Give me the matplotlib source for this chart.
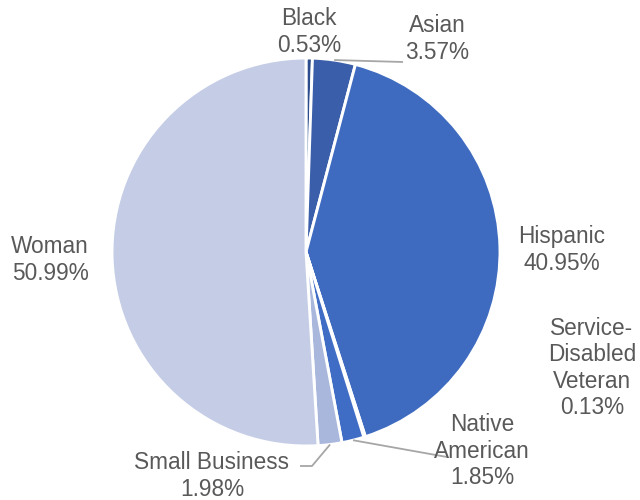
import numpy as np
import matplotlib
matplotlib.use("Agg")
import matplotlib.pyplot as plt

categories = ["Black", "Asian", "Hispanic", "Service-\nDisabled\nVeteran",
              "Native\nAmerican", "Small Business", "Woman"]
shares = [0.53, 3.57, 40.95, 0.13, 1.85, 1.98, 50.99]
colors = ["#2d4c8e", "#3a5eaa", "#3e6bc0", "#3d69bd", "#3f6cc4", "#a9b7dd", "#c5cde6"]

W, H = 640, 500
fig = plt.figure(figsize=(W / 100, H / 100), dpi=100)
ax = fig.add_axes([0, 0, 1, 1])

cx, cy, R = 306, H - 252, 194
wedges, _ = ax.pie(shares, colors=colors, startangle=90, counterclock=False,
                   center=(cx, cy), radius=R, frame=True,
                   wedgeprops=dict(edgecolor="white", linewidth=2.1))
ax.set_xlim(0, W)
ax.set_ylim(0, H)
ax.axis("off")

txt = dict(fontsize=16.3, color="#595959", family="Liberation Sans",
           ha="center", va="center", linespacing=1.17)

def P(x, y):
    return x, H - y

def label(i, x, y):
    ax.text(*P(x, y), f"{categories[i]}\n{shares[i]:.2f}%", **txt)

def edge_point(i, r=R):
    w = wedges[i]
    a = np.deg2rad((w.theta1 + w.theta2) / 2)
    return cx + r * np.cos(a), cy + r * np.sin(a)

line = dict(color="#a6a6a6", lw=1.3, solid_capstyle="butt")

label(0, 309, 32)
label(1, 437, 39)
label(2, 562, 250)
label(3, 592, 368)
label(4, 482, 451)
label(5, 212, 476)
label(6, 50, 260)

# leader lines
x0, y0 = edge_point(1)
ax.plot([x0, 403], [y0, H - 62], **line)
x0, y0 = edge_point(4)
ax.plot([x0, 447], [y0, H - 457], **line)
x0, y0 = edge_point(5)
ax.plot([x0, 312, 300], [y0, H - 466, H - 466], **line)

fig.savefig("out.png", dpi=100, facecolor="white")
